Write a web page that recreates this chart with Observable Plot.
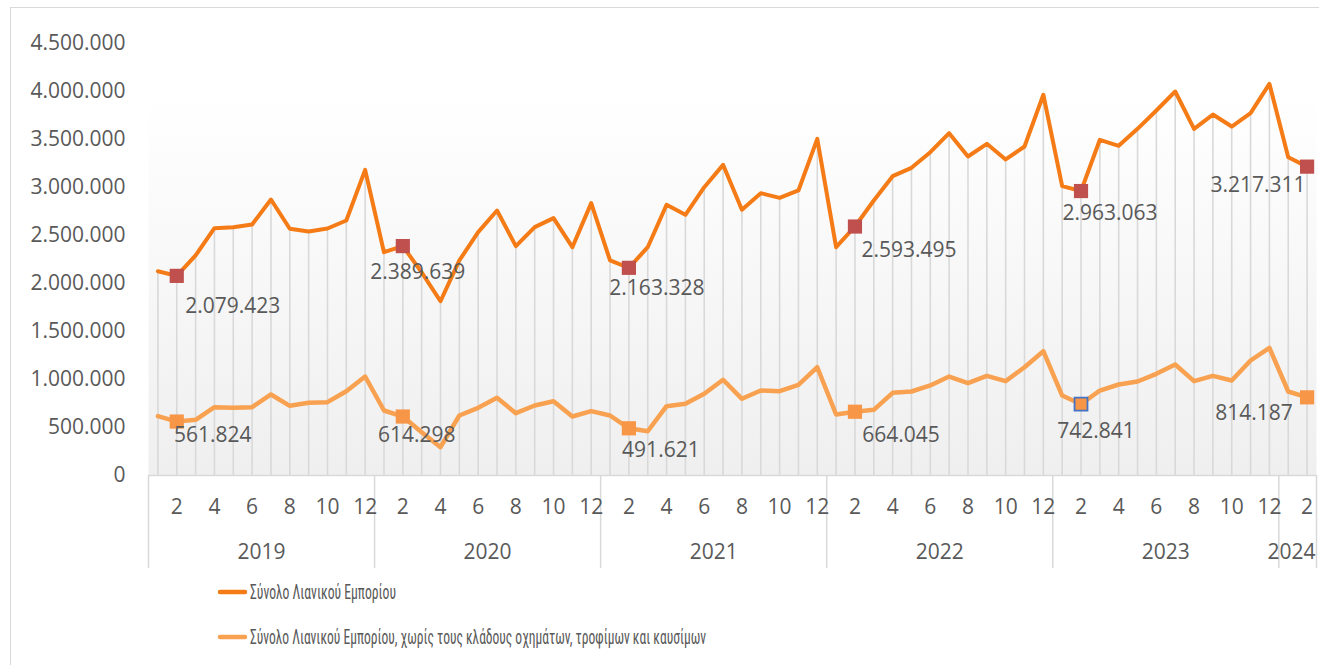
<!DOCTYPE html>
<html>
<head>
<meta charset="utf-8">
<script src="https://cdn.jsdelivr.net/npm/d3@7"></script>
<script src="https://cdn.jsdelivr.net/npm/@observablehq/plot@0.6"></script>
<style>
  html, body { margin: 0; padding: 0; background: #ffffff; }
  #wrap { position: relative; width: 1319px; height: 665px; overflow: hidden; background: #fff; }
  #border { position: absolute; left: 10px; top: 7px; width: 1340px; height: 700px; border: 1.5px solid #d9d9d9; pointer-events: none; box-sizing: border-box; }
  #legend { display: block; }
</style>
</head>
<body>
<svg width="0" height="0" style="position:absolute">
  <defs>
    <linearGradient id="plotbg" x1="0" y1="0" x2="0" y2="1">
      <stop offset="0%" stop-color="#ffffff"/>
      <stop offset="12%" stop-color="#ffffff"/>
      <stop offset="100%" stop-color="#efefef"/>
    </linearGradient>
  </defs>
</svg>
<div id="wrap">
  <div id="chart"></div>
  <svg id="legend" width="1319" height="90"></svg>
  <div id="border"></div>
</div>
<script>
// ---------------- DATA ----------------
const years = ["2019", "2020", "2021", "2022", "2023", "2024"];
const monthNumbers = [
  1,2,3,4,5,6,7,8,9,10,11,12,
  1,2,3,4,5,6,7,8,9,10,11,12,
  1,2,3,4,5,6,7,8,9,10,11,12,
  1,2,3,4,5,6,7,8,9,10,11,12,
  1,2,3,4,5,6,7,8,9,10,11,12,
  1,2
];
const yearOfPeriod = [
  0,0,0,0,0,0,0,0,0,0,0,0,
  1,1,1,1,1,1,1,1,1,1,1,1,
  2,2,2,2,2,2,2,2,2,2,2,2,
  3,3,3,3,3,3,3,3,3,3,3,3,
  4,4,4,4,4,4,4,4,4,4,4,4,
  5,5
];
const seriesNames = [
  "Σύνολο Λιανικού Εμπορίου",
  "Σύνολο Λιανικού Εμπορίου, χωρίς τους κλάδους οχημάτων, τροφίμων και καυσίμων"
];
const totalRetail = [
  2128000, 2079423, 2292000, 2576000, 2587000, 2615000, 2875000, 2570000, 2542000, 2573000, 2656000, 3184000,
  2326000, 2389639, 2115000, 1815000, 2240000, 2535000, 2760000, 2389000, 2587000, 2681000, 2378000, 2837000,
  2240000, 2163328, 2378000, 2820000, 2716000, 3003000, 3236000, 2768000, 2941000, 2892000, 2969000, 3507000,
  2378000, 2593495, 2865000, 3118000, 3205000, 3368000, 3566000, 3323000, 3455000, 3292000, 3427000, 3966000,
  3014000, 2963063, 3497000, 3434000, 3611000, 3802000, 4000000, 3611000, 3760000, 3635000, 3774000, 4080000,
  3316000, 3217311
];
const retailExcl = [
  618000, 561824, 580000, 712000, 705000, 712000, 844000, 726000, 757000, 764000, 878000, 1031000,
  677000, 614298, 451000, 295000, 625000, 705000, 809000, 649000, 729000, 774000, 615000, 670000,
  625000, 491621, 461000, 722000, 747000, 851000, 997000, 799000, 885000, 878000, 945000, 1128000,
  635000, 664045, 684000, 861000, 875000, 938000, 1031000, 962000, 1038000, 983000, 1128000, 1295000,
  833000, 742841, 885000, 948000, 979000, 1059000, 1156000, 983000, 1038000, 990000, 1198000, 1330000,
  875000, 814187
];
const yTicks = [0, 500000, 1000000, 1500000, 2000000, 2500000, 3000000, 3500000, 4000000, 4500000];

// ---------------- STYLE ----------------
const C_TOTAL = "#F47B16";
const C_EXCL = "#F8A150";
const C_MARK_TOTAL = "#C0504D";
const C_MARK_EXCL = "#F79646";
const C_GRID = "#d9d9d9";
const C_TEXT = "#595959";
// label offsets (dx, dy) in pixels for the labelled February points, in order
const offsetsTotal = [[56, 30], [15, 26], [28, 20], [54, 24], [29, 22], [-49, 19]];
const offsetsExcl = [[36, 14], [14, 19], [32, 22], [46, 24], [15, 27], [-53, 16]];

const W = 1319, H = 575, mT = 43, mB = 100, mL = 148, mR = 3;
const plotH = H - mT - mB;

// ---------------- BUILD ----------------
const fmt = d3.formatLocale({decimal: ",", thousands: ".", grouping: [3], currency: ["", ""]}).format(",d");

const rows = totalRetail.map((v, i) => ({
  i, total: v, excl: retailExcl[i], month: monthNumbers[i], year: yearOfPeriod[i]
}));
const febRows = rows.filter(d => d.month === 2);

const yearSpans = years.map((label, k) => {
  const idx = rows.filter(d => d.year === k).map(d => d.i);
  return {label, center: (d3.min(idx) + d3.max(idx)) / 2, start: d3.min(idx) - 0.5, end: d3.max(idx) + 0.5};
});
const bounds = Array.from(new Set(yearSpans.flatMap(s => [s.start, s.end])));

const labelMarks = [];
febRows.forEach((d, k) => {
  labelMarks.push(Plot.text([d], {x: "i", y: "total", text: r => fmt(r.total),
    dx: offsetsTotal[k][0], dy: offsetsTotal[k][1], fill: C_TEXT, lineAnchor: "middle", textAnchor: "middle"}));
  labelMarks.push(Plot.text([d], {x: "i", y: "excl", text: r => fmt(r.excl),
    dx: offsetsExcl[k][0], dy: offsetsExcl[k][1], fill: C_TEXT, lineAnchor: "middle", textAnchor: "middle"}));
});

const chart = Plot.plot({
  width: W, height: H,
  marginTop: mT, marginBottom: mB, marginLeft: mL, marginRight: mR,
  style: {fontFamily: "'Open Sans', sans-serif", fontSize: "21px", color: C_TEXT, background: "transparent", overflow: "visible"},
  x: {type: "linear", domain: [-0.5, totalRetail.length - 0.5], axis: null},
  y: {domain: [0, 4500000], axis: null},
  marks: [
    Plot.frame({fill: "url(#plotbg)", stroke: "none"}),
    Plot.ruleX(rows, {x: "i", y1: 0, y2: "total", stroke: C_GRID, strokeWidth: 1.6}),
    Plot.ruleY([0], {stroke: C_GRID, strokeWidth: 1.5}),
    Plot.ruleX(bounds, {stroke: C_GRID, strokeWidth: 1.5, insetTop: plotH, insetBottom: -93}),
    Plot.axisY(yTicks, {anchor: "left", tickSize: 0, tickPadding: 23, tickFormat: fmt, fill: C_TEXT, label: null}),
    Plot.text(rows.filter(d => d.month % 2 === 0), {x: "i", text: d => String(d.month), frameAnchor: "bottom", dy: 32, lineAnchor: "middle", fill: C_TEXT}),
    Plot.text(yearSpans.slice(0, -1), {x: "center", text: "label", frameAnchor: "bottom", dy: 77, lineAnchor: "middle", fill: C_TEXT}),
    Plot.text(yearSpans.slice(-1), {x: "end", text: "label", frameAnchor: "bottom", dy: 77, dx: -1, textAnchor: "end", lineAnchor: "middle", fill: C_TEXT}),
    Plot.line(rows, {x: "i", y: "excl", stroke: C_EXCL, strokeWidth: 4.5, strokeLinejoin: "round", strokeLinecap: "round"}),
    Plot.line(rows, {x: "i", y: "total", stroke: C_TOTAL, strokeWidth: 4, strokeLinejoin: "round", strokeLinecap: "round"}),
    Plot.dot(febRows, {x: "i", y: "total", symbol: "square", r: 8, fill: C_MARK_TOTAL}),
    Plot.dot(febRows.filter(d => d.year !== 4), {x: "i", y: "excl", symbol: "square", r: 8, fill: C_MARK_EXCL}),
    Plot.dot(febRows.filter(d => d.year === 4), {x: "i", y: "excl", symbol: "square", r: 7.3, fill: C_MARK_EXCL, stroke: "#4472C4", strokeWidth: 1.8}),
    ...labelMarks
  ]
});
document.getElementById("chart").appendChild(chart);

// ---------------- LEGEND ----------------
const lg = d3.select("#legend");
const items = [
  {name: seriesNames[0], color: C_TOTAL, ly: 17, ty: 23.5, len: 146},
  {name: seriesNames[1], color: C_EXCL, ly: 62, ty: 69, len: 456}
];
items.forEach(it => {
  lg.append("line").attr("x1", 220).attr("x2", 245).attr("y1", it.ly).attr("y2", it.ly)
    .attr("stroke", it.color).attr("stroke-width", 4.5).attr("stroke-linecap", "round");
  lg.append("text").attr("x", 250).attr("y", it.ty)
    .attr("font-family", "'Liberation Sans Narrow', 'Roboto Condensed', Roboto, sans-serif")
    .attr("font-size", 20).attr("fill", C_TEXT)
    .attr("textLength", it.len).attr("lengthAdjust", "spacingAndGlyphs")
    .text(it.name);
});
</script>
</body>
</html>
